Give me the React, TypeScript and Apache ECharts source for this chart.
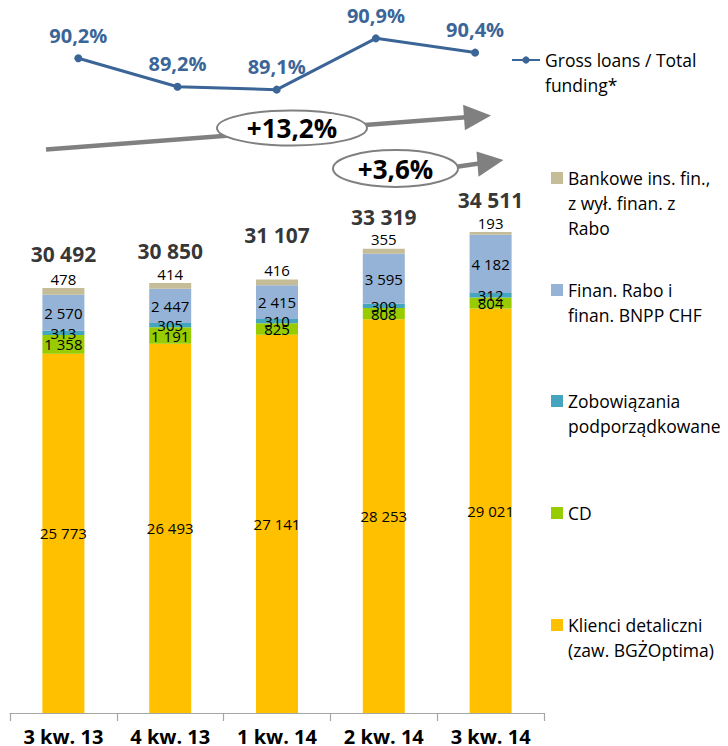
import React, { useEffect, useRef } from 'react';
import * as echarts from 'echarts';

// ---- data ----
const categories = ['3 kw. 13', '4 kw. 13', '1 kw. 14', '2 kw. 14', '3 kw. 14'];
const klienciDetaliczni = [25773, 26493, 27141, 28253, 29021];
const cdValues = [1358, 1191, 825, 808, 804];
const zobowiazania = [313, 305, 310, 309, 312];
const finanRabo = [2570, 2447, 2415, 3595, 4182];
const bankowe = [478, 414, 416, 355, 193];
const totals = [30492, 30850, 31107, 33319, 34511];
const grossLoansRatio = [90.2, 89.2, 89.1, 90.9, 90.4];
const growthLabels = ['+13,2%', '+3,6%'];

const seriesNames = [
  'Klienci detaliczni (zaw. BGŻOptima)',
  'CD',
  'Zobowiązania podporządkowane',
  'Finan. Rabo i finan. BNPP CHF',
  'Bankowe ins. fin., z wył. finan. z Rabo',
];
const legendLabels = [
  'Klienci detaliczni\n(zaw. BGŻOptima)',
  'CD',
  'Zobowiązania\npodporządkowane',
  'Finan. Rabo i\nfinan. BNPP CHF',
  'Bankowe ins. fin.,\nz wył. finan. z\nRabo',
];
const lineName = 'Gross loans / Total funding*';
const lineLegendLabel = 'Gross loans / Total\nfunding*';

const FONT = '"Open Sans", sans-serif';
const COLORS = ['#FFC000', '#99CC00', '#46A5BE', '#95B3D7', '#C4BD97'];
const LINE_COLOR = '#3B6597';
const GRAY = '#808080';

const fmt = (v: number) => String(v).replace(/\B(?=(\d{3})+(?!\d))/g, ' ');
const fmtPct = (v: number) => v.toFixed(1).replace('.', ',') + '%';

// legend text block is centred on its icon; prepend blank lines so that the
// first text line sits level with the icon
const alignFirstLine = (label: string) => {
  const n = label.split('\n').length;
  return '\n'.repeat(n - 1) + label;
};

function buildOption() {
  const LH = 25;
  const legendIconY = [625, 513, 401, 290, 178];
  const barLegends = seriesNames.map((name, i) => {
    const lines = legendLabels[i].split('\n').length;
    return {
      data: [name],
      orient: 'vertical',
      left: 551,
      top: legendIconY[i] - (lines - 1) * LH - LH / 2,
      padding: 0,
      icon: 'rect',
      itemWidth: 12,
      itemHeight: 12,
      selectedMode: false,
      formatter: () => alignFirstLine(legendLabels[i]),
      textStyle: {
        fontFamily: FONT,
        fontSize: 17.5,
        color: '#000',
        lineHeight: LH,
      },
    };
  });
  const lineLegend = {
    data: [lineName],
    left: 511,
    top: 60 - LH - LH / 2,
    padding: 0,
    itemWidth: 28,
    itemHeight: 9,
    selectedMode: false,
    formatter: () => alignFirstLine(lineLegendLabel),
    textStyle: {
      fontFamily: FONT,
      fontSize: 17.5,
      color: '#000',
      lineHeight: LH,
    },
  };

  const innerLabel = {
    show: true,
    position: 'inside',
    fontFamily: FONT,
    fontSize: 15,
    color: '#000',
    formatter: (p: any) => fmt(p.value),
  };

  const barData = [klienciDetaliczni, cdValues, zobowiazania, finanRabo, bankowe];
  const barSeries = barData.map((d, i) => ({
    name: seriesNames[i],
    type: 'bar',
    stack: 'funding',
    barWidth: 42,
    xAxisIndex: 0,
    yAxisIndex: 0,
    itemStyle: { color: COLORS[i] },
    data: d,
    label:
      i === 4
        ? { ...innerLabel, position: 'top', distance: 2 }
        : innerLabel,
  }));

  const totalOffsets = [-34, -32, -44.5, -32, -32];

  return {
    animation: false,
    textStyle: { fontFamily: FONT },
    grid: [
      { left: 10, width: 534, top: 155.6, height: 558.4 },
      { left: 28.7, width: 496, top: 7, height: 114 },
    ],
    xAxis: [
      {
        type: 'category',
        gridIndex: 0,
        data: categories,
        axisLine: { lineStyle: { color: '#A6A6A6', width: 1.2 } },
        axisTick: { show: true, length: 8, lineStyle: { color: '#A6A6A6', width: 1.2 } },
        axisLabel: {
          fontFamily: FONT,
          fontSize: 20,
          lineHeight: 14,
          fontWeight: 'bold',
          color: '#000',
          margin: 16,
          interval: 0,
        },
      },
      {
        type: 'category',
        gridIndex: 1,
        data: categories,
        show: false,
      },
    ],
    yAxis: [
      { type: 'value', gridIndex: 0, min: 0, max: 40000, show: false, splitLine: { show: false } },
      { type: 'value', gridIndex: 1, min: 88, max: 92, show: false, splitLine: { show: false } },
    ],
    legend: [lineLegend, ...barLegends],
    series: [
      ...barSeries,
      {
        name: 'Suma',
        type: 'scatter',
        xAxisIndex: 0,
        yAxisIndex: 0,
        symbolSize: 1,
        silent: true,
        itemStyle: { color: 'rgba(0,0,0,0)' },
        data: totals.map((v, i) => ({ value: v, label: { offset: [0, totalOffsets[i]] } })),
        label: {
          show: true,
          position: 'inside',
          fontFamily: FONT,
          fontSize: 21,
          fontWeight: 'bold',
          color: '#000',
          formatter: (p: any) => fmt(p.value),
        },
        z: 5,
      },
      {
        name: lineName,
        type: 'line',
        xAxisIndex: 1,
        yAxisIndex: 1,
        data: grossLoansRatio,
        symbol: 'circle',
        symbolSize: 8,
        lineStyle: { color: LINE_COLOR, width: 3 },
        itemStyle: { color: LINE_COLOR },
        label: {
          show: true,
          position: 'top',
          distance: 9,
          fontFamily: FONT,
          fontSize: 20,
          lineHeight: 20,
          fontWeight: 'bold',
          color: LINE_COLOR,
          formatter: (p: any) => fmtPct(p.value),
        },
      },
    ],
    graphic: [
      // arrow 1
      {
        type: 'line',
        shape: { x1: 46, y1: 149.5, x2: 466, y2: 117.3 },
        style: { stroke: GRAY, lineWidth: 4.5 },
      },
      {
        type: 'polygon',
        shape: { points: [[463.1, 104.8], [464.9, 130.2], [491, 115.5]] },
        style: { fill: GRAY },
      },
      {
        type: 'ellipse',
        shape: { cx: 292, cy: 128, rx: 75, ry: 17.5 },
        style: { fill: '#fff', stroke: GRAY, lineWidth: 2 },
      },
      {
        type: 'text',
        x: 292,
        y: 128,
        style: {
          text: growthLabels[0],
          font: `bold 26px ${FONT}`,
          fill: '#000',
          align: 'center',
          verticalAlign: 'middle',
        },
      },
      // arrow 2
      {
        type: 'line',
        shape: { x1: 400, y1: 175, x2: 479, y2: 163.5 },
        style: { stroke: GRAY, lineWidth: 4.5 },
      },
      {
        type: 'polygon',
        shape: { points: [[476.5, 151.5], [478.5, 176.8], [503.5, 160]] },
        style: { fill: GRAY },
      },
      {
        type: 'ellipse',
        shape: { cx: 395.5, cy: 168.5, rx: 62.5, ry: 18.5 },
        style: { fill: '#fff', stroke: GRAY, lineWidth: 2 },
      },
      {
        type: 'text',
        x: 395.5,
        y: 168.5,
        style: {
          text: growthLabels[1],
          font: `bold 26px ${FONT}`,
          fill: '#000',
          align: 'center',
          verticalAlign: 'middle',
        },
      },
    ],
  };
}

export default function App() {
  const ref = useRef<HTMLDivElement>(null);
  useEffect(() => {
    document.body.style.margin = '0';
    const chart = echarts.init(ref.current as HTMLDivElement, null, { renderer: 'svg' });
    chart.setOption(buildOption() as any);
    return () => chart.dispose();
  }, []);
  return <div ref={ref} style={{ width: 728, height: 746 }} />;
}
